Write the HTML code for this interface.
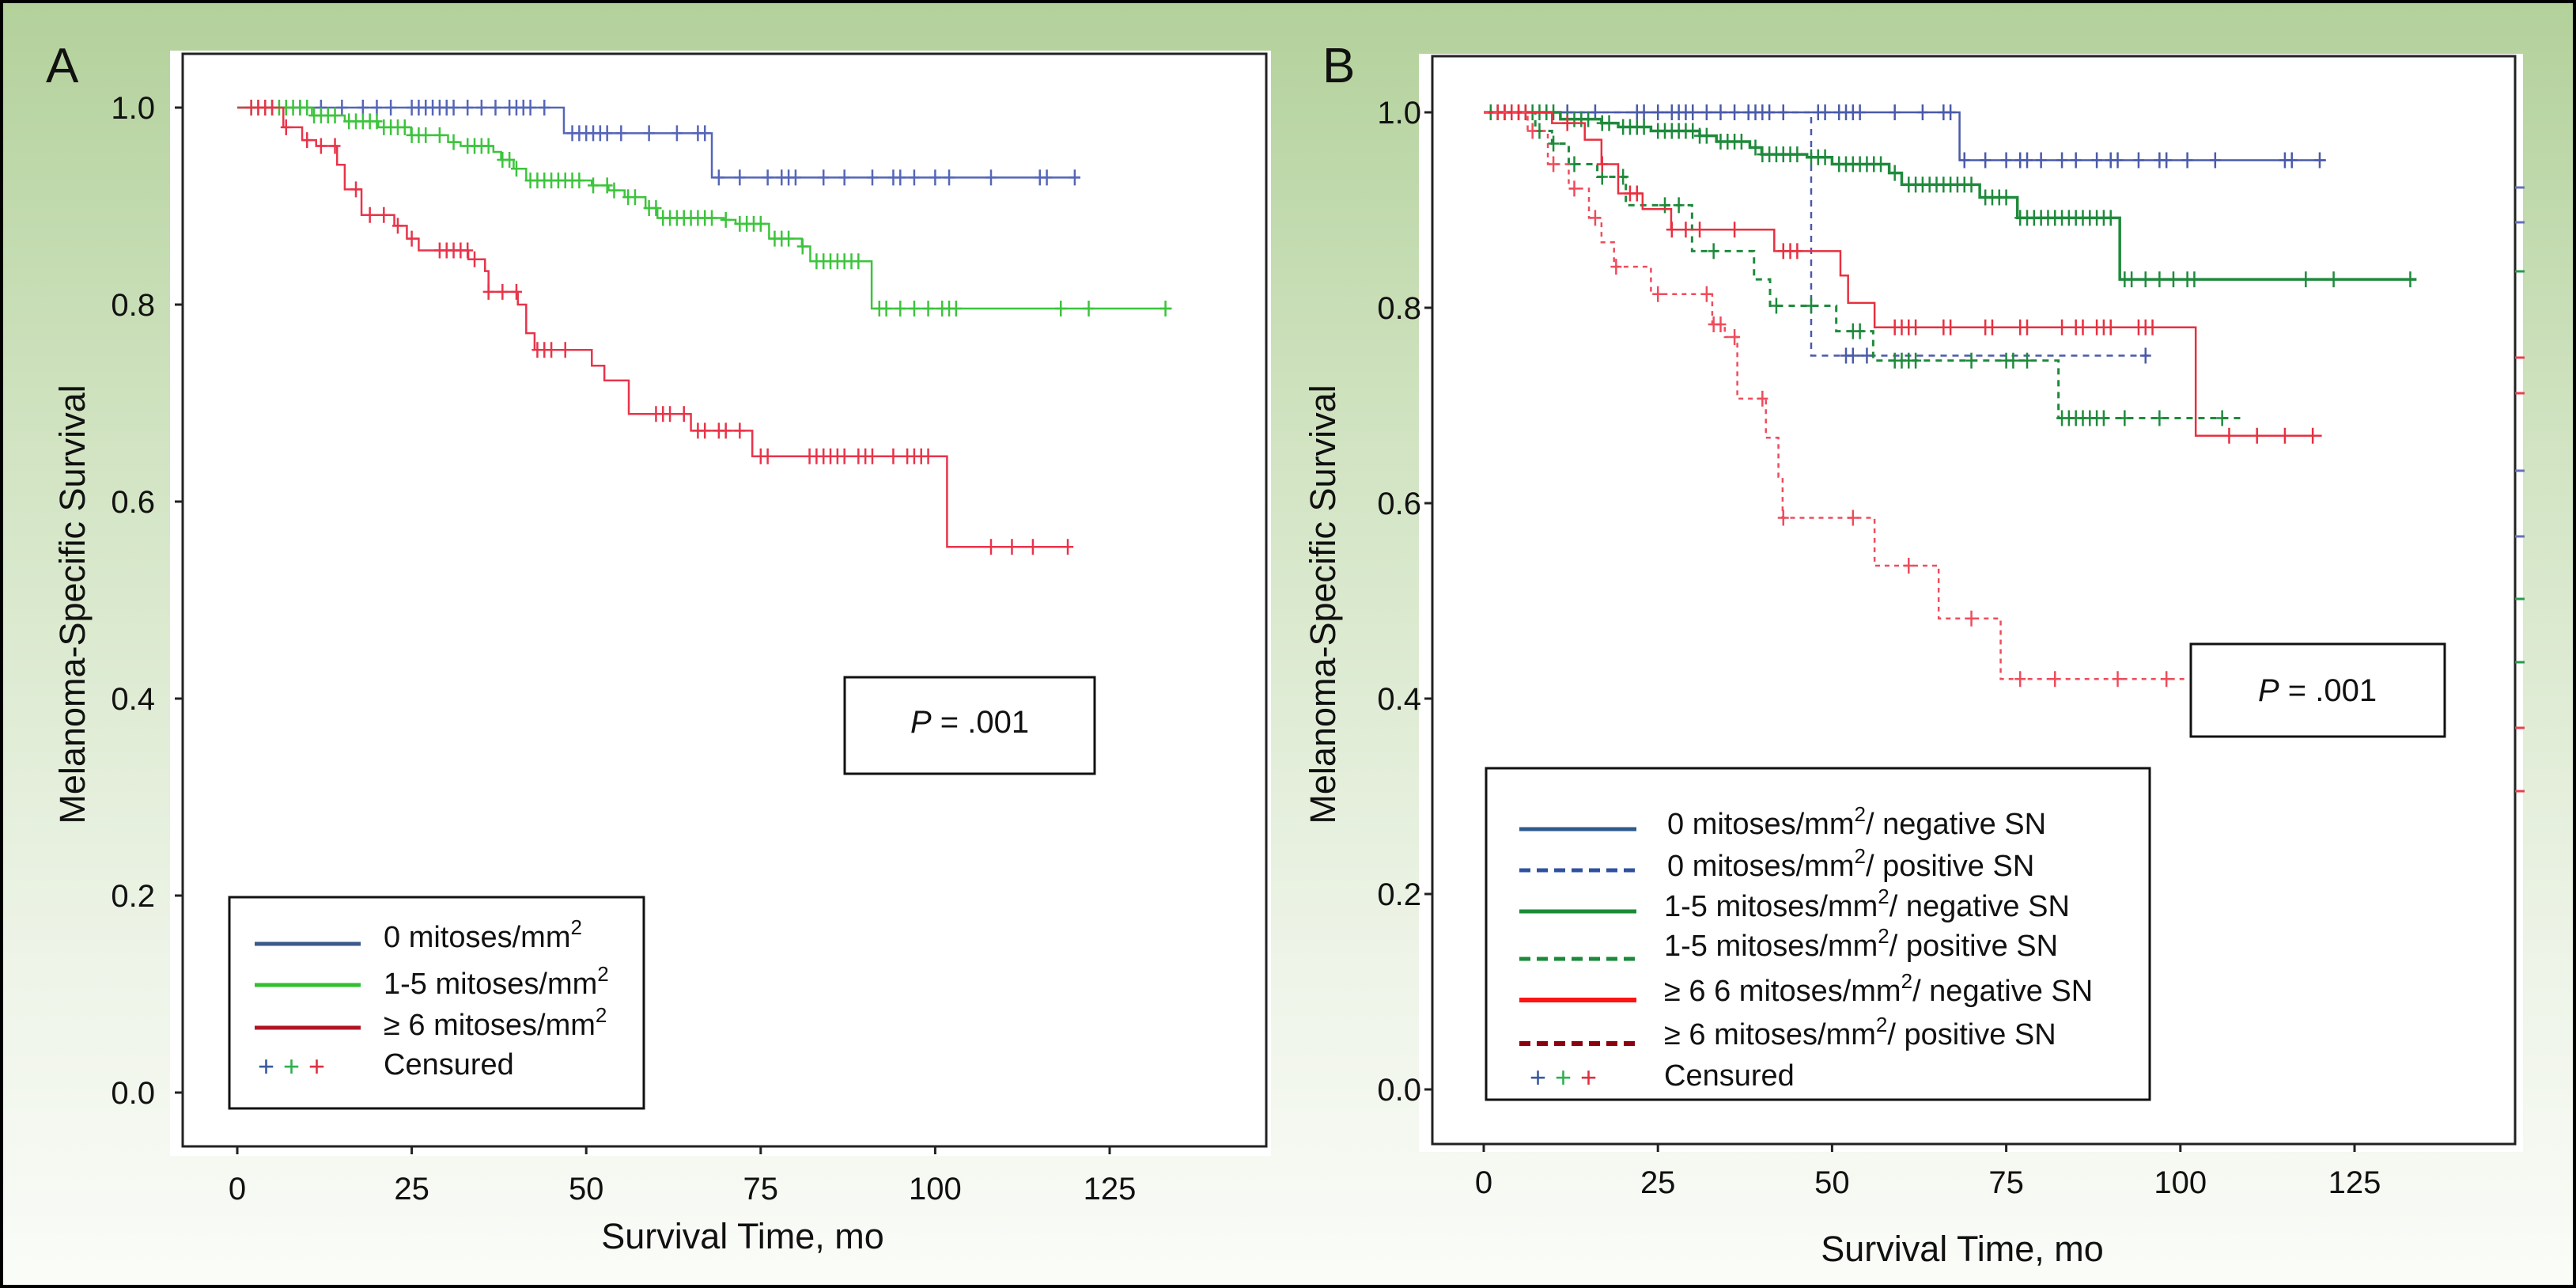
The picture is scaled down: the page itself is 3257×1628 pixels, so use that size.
<!DOCTYPE html>
<html><head><meta charset="utf-8"><style>
html,body{margin:0;padding:0;background:#fff}
svg{display:block}
text{font-family:"Liberation Sans",Arial,sans-serif;fill:#111}
</style></head><body>
<svg id="fig" width="3257" height="1628" viewBox="0 0 3257 1628" xmlns="http://www.w3.org/2000/svg">
<defs>
<linearGradient id="bg" x1="0" y1="0" x2="0" y2="1">
<stop offset="0" stop-color="#b3d19b"/><stop offset="0.35" stop-color="#d2e4c3"/><stop offset="0.75" stop-color="#eef4e8"/><stop offset="1" stop-color="#fafcf8"/>
</linearGradient>
</defs>
<rect x="2" y="2" width="3253" height="1624" fill="url(#bg)" stroke="#000" stroke-width="4"/>
<g id="panelA"></g>
<g id="panelB"></g>
</svg>
<script>
// ---------- Panel A data ----------
const ticksX = [0, 25, 50, 75, 100, 125];
const ticksY = [0.0, 0.2, 0.4, 0.6, 0.8, 1.0];
const tickYLabels = ["0.0", "0.2", "0.4", "0.6", "0.8", "1.0"];

const aBlueTimes = [46.8, 68];
const aBlueSurv = [0.974, 0.929];
const aBlueEnd = 120.8;
const aBlueCens = [5,7,9,12,15,18,20,22,25,26,27,28,29,30,31,33,35,37,39,40,41,42,44,48,49,50,51,52,53,55,59,63,66,67,69,72,76,78,79,80,84,87,91,94,95,97,100,102,108,115,116,120];

const aGreenTimes = [10.7,15.4,20.2,24.9,30.2,32,36.7,37.8,39.6,41.4,50.8,53.2,55.5,58.5,60.2,69.7,71.4,76.2,80.9,82.1,90.9];
const aGreenSurv = [0.992,0.986,0.980,0.972,0.965,0.961,0.955,0.947,0.938,0.926,0.921,0.916,0.909,0.898,0.888,0.886,0.882,0.867,0.859,0.844,0.796];
const aGreenEnd = 133.9;
const aGreenCens = [2,3,4,5,6,7,8,9,10,11,12,13,14,16,17,18,19,20,21,22,23,24,25,26,27,29,31,33,34,35,36,38,39,40,42,43,44,45,46,47,48,49,51,53,54,56,57,59,60,61,62,63,64,65,66,67,68,70,72,73,74,75,77,78,79,81,83,84,85,86,87,88,89,92,93,95,97,99,101,102,103,118,122,133];

const aRedTimes = [6.6,9.3,11.3,14.3,15.4,17.8,22.5,24.3,26,33.1,35.5,36,40.2,41.4,42.6,50.8,52.6,56.1,65,73.8,101.7];
const aRedSurv = [0.98,0.967,0.961,0.942,0.917,0.891,0.88,0.867,0.855,0.846,0.834,0.813,0.80,0.771,0.754,0.738,0.723,0.689,0.672,0.646,0.554];
const aRedEnd = 119.8;
const aRedCens = [2,3,4,5,7,10,12,14,17,19,21,23,25,29,30,31,32,33,34,36,38,40,43,44,45,47,60,61,62,64,66,67,69,70,72,75,76,82,83,84,85,86,87,89,90,91,94,96,97,98,99,108,111,114,119];

// ---------- Panel B data ----------
const bBlueNegTimes = [68.3];
const bBlueNegSurv = [0.951];
const bBlueNegEnd = 120.9;
const bBlueNegCens = [3,6,9,12,16,22,23,25,27,28,29,30,32,34,36,38,39,40,41,43,48,49,51,52,53,54,59,63,66,67,69,72,75,77,78,80,83,85,88,90,91,94,97,98,101,105,115,116,120];

const bBluePosTimes = [47];
const bBluePosSurv = [0.751];
const bBluePosEnd = 95.5;
const bBluePosCens = [52,53,55,95];

const bGreenNegTimes = [11,16.9,19.3,24,31,33.4,38.2,39.9,46.4,50,58.2,60,71.2,76.6,91.3];
const bGreenNegSurv = [0.993,0.989,0.985,0.981,0.976,0.970,0.964,0.957,0.954,0.947,0.938,0.926,0.913,0.892,0.829];
const bGreenNegEnd = 133.9;
const bGreenNegCens = [1,2,3,4,5,6,7,8,9,10,12,13,14,15,17,18,20,21,22,23,25,26,27,28,29,30,31,32,34,35,36,37,39,40,41,42,43,44,45,47,48,49,51,52,53,54,55,56,57,59,61,62,63,64,65,66,67,68,69,70,72,73,74,75,77,78,79,80,81,82,83,84,85,86,87,88,89,90,92,93,95,97,99,101,102,118,122,133];

const bGreenPosTimes = [7.4,9.8,12.2,16.3,20.4,29.9,38.8,41.1,50.6,55.9,82.5];
const bGreenPosSurv = [0.981,0.968,0.947,0.934,0.905,0.858,0.829,0.802,0.776,0.746,0.687];
const bGreenPosEnd = 109;
const bGreenPosCens = [8,10,13,17,20,26,28,33,42,47,53,54,59,60,61,62,70,75,76,78,83,84,85,86,87,88,89,92,97,106];

const bRedNegTimes = [9.8,14.5,16.9,19.3,22.8,26.9,41.7,51.2,52.3,56.1,102.2];
const bRedNegSurv = [0.989,0.972,0.947,0.917,0.901,0.880,0.858,0.833,0.805,0.780,0.669];
const bRedNegEnd = 120.3;
const bRedNegCens = [2,3,4,5,6,12,17,21,22,27,29,31,36,43,44,45,59,60,61,62,66,67,72,73,77,78,83,85,86,88,89,90,94,95,96,107,111,115,119];

const bRedPosTimes = [6.3,9.2,12.2,15.1,16.9,18.7,24,32.8,34.6,36.4,40.5,42.3,42.9,56.1,65.3,74.2];
const bRedPosSurv = [0.981,0.947,0.922,0.892,0.867,0.842,0.814,0.783,0.770,0.707,0.667,0.627,0.585,0.536,0.482,0.420];
const bRedPosEnd = 100.8;
const bRedPosCens = [7,10,13,16,19,25,32,33,34,36,40,43,53,61,70,77,82,91,98];

const NS = "http://www.w3.org/2000/svg";
function mk(tag, attrs, parent, txt) {
  const el = document.createElementNS(NS, tag);
  for (const k in attrs) el.setAttribute(k, attrs[k]);
  if (txt !== undefined) el.textContent = txt;
  parent.appendChild(el);
  return el;
}

function buildPanel(g, cfg, series) {
  const xs = v => cfg.x0 + v / 125 * (cfg.x125 - cfg.x0);
  const ys = v => cfg.y0 - v * (cfg.y0 - cfg.y1);
  const wb = mk("rect", {x: cfg.wb[0], y: cfg.wb[1], width: cfg.wb[2], height: cfg.wb[3], fill: "#fff"}, g);
  
  
  const fr = mk("rect", {x: cfg.fr[0], y: cfg.fr[1], width: cfg.fr[2] - cfg.fr[0], height: cfg.fr[3] - cfg.fr[1], fill: "none", stroke: "#222", "stroke-width": 3}, g);
  
  
  ticksX.forEach(t => {
    const tk = mk("line", {x1: xs(t), x2: xs(t), y1: cfg.fr[3], y2: cfg.fr[3] + 10, stroke: "#222", "stroke-width": 3}, g);
    
    
    const tl = mk("text", {x: xs(t), y: cfg.xLabY, "font-size": 40, "text-anchor": "middle"}, g, String(t));
    
    
  });
  ticksY.forEach((t, i) => {
    const tk = mk("line", {x1: cfg.fr[0] - 10, x2: cfg.fr[0], y1: ys(t), y2: ys(t), stroke: "#222", "stroke-width": 3}, g);
    
    
    const tl = mk("text", {x: cfg.yLabX, y: ys(t) + 14, "font-size": 40, "text-anchor": "end"}, g, tickYLabels[i]);
    
    
  });
  series.forEach(s => {
    let d = "M" + xs(0) + "," + ys(1);
    s.t.forEach((t, i) => { d += " H" + xs(t) + " V" + ys(s.s[i]); });
    d += " H" + xs(s.end);
    const p = mk("path", {d: d, fill: "none", stroke: s.c, "stroke-width": s.w, "stroke-dasharray": s.dash || "none"}, g);
    
    
    s.cens.forEach(ct => {
      let v = 1;
      s.t.forEach((t, i) => { if (ct >= t) v = s.s[i]; });
      const cx = xs(ct), cy = ys(v);
      const m = mk("path", {d: "M" + (cx - 7) + "," + cy + " H" + (cx + 7) + " M" + cx + "," + (cy - 10) + " V" + (cy + 10), stroke: s.c, "stroke-width": 2.5, fill: "none"}, g);
      
      
    });
  });
}

const gA = document.getElementById("panelA");
buildPanel(gA, {x0: 300, x125: 1403, y0: 1381, y1: 136, wb: [215, 64, 1392, 1397], fr: [231, 68, 1601, 1449], xLabY: 1516, yLabX: 196}, [
  {name: "zero-mitoses", t: aBlueTimes, s: aBlueSurv, end: aBlueEnd, cens: aBlueCens, c: "#5566b8", w: 2.5},
  {name: "one-to-five-mitoses", t: aGreenTimes, s: aGreenSurv, end: aGreenEnd, cens: aGreenCens, c: "#3cc43c", w: 2.5},
  {name: "six-plus-mitoses", t: aRedTimes, s: aRedSurv, end: aRedEnd, cens: aRedCens, c: "#e8344a", w: 2.5}
]);

const gB = document.getElementById("panelB");
buildPanel(gB, {x0: 1876, x125: 2977, y0: 1377, y1: 142, wb: [1794, 68, 1396, 1388], fr: [1811, 71, 3180, 1446], xLabY: 1508, yLabX: 1797}, [
  {name: "zero-neg-sn", t: bBlueNegTimes, s: bBlueNegSurv, end: bBlueNegEnd, cens: bBlueNegCens, c: "#4a5aa8", w: 2.5},
  {name: "zero-pos-sn", t: bBluePosTimes, s: bBluePosSurv, end: bBluePosEnd, cens: bBluePosCens, c: "#4a5aa8", w: 2.5, dash: "8,7"},
  {name: "one-five-neg-sn", t: bGreenNegTimes, s: bGreenNegSurv, end: bGreenNegEnd, cens: bGreenNegCens, c: "#1f8a3c", w: 3.5},
  {name: "one-five-pos-sn", t: bGreenPosTimes, s: bGreenPosSurv, end: bGreenPosEnd, cens: bGreenPosCens, c: "#1f8a3c", w: 3, dash: "8,7"},
  {name: "six-neg-sn", t: bRedNegTimes, s: bRedNegSurv, end: bRedNegEnd, cens: bRedNegCens, c: "#e83040", w: 2.5},
  {name: "six-pos-sn", t: bRedPosTimes, s: bRedPosSurv, end: bRedPosEnd, cens: bRedPosCens, c: "#ee4c5c", w: 2.5, dash: "6,6"}
]);

// right-edge stray ticks in panel B
const edgeTickY = [237, 281, 343, 452, 497, 595, 678, 757, 837, 920, 1000];
const edgeTickC = ["#6670b8", "#6670b8", "#2a9a4a", "#e84050", "#e84050", "#6670b8", "#6670b8", "#2a9a4a", "#2a9a4a", "#e84050", "#e84050"];
edgeTickY.forEach((y, i) => {
  const l = mk("line", {x1: 3180, x2: 3192, y1: y, y2: y, stroke: edgeTickC[i], "stroke-width": 3}, gB);
  
  
});
</script>
<svg style="position:absolute;left:0;top:0" width="3257" height="1628">
<text x="58" y="104" font-size="62">A</text>
<text x="1672" y="104" font-size="62">B</text>
<text transform="translate(107,764) rotate(-90)" font-size="45" text-anchor="middle">Melanoma-Specific Survival</text>
<text x="939" y="1578" font-size="45" text-anchor="middle">Survival Time, mo</text>
<text transform="translate(1688,764) rotate(-90)" font-size="45" text-anchor="middle">Melanoma-Specific Survival</text>
<text x="2481" y="1594" font-size="45" text-anchor="middle">Survival Time, mo</text>

<g>
<rect x="1068" y="856" width="316" height="122" fill="#fff" stroke="#111" stroke-width="3"/>
<text x="1226" y="926" font-size="40" text-anchor="middle"><tspan font-style="italic">P</tspan> = .001</text>
</g>
<g>
<rect x="2770" y="814" width="321" height="117" fill="#fff" stroke="#111" stroke-width="3"/>
<text x="2930" y="886" font-size="40" text-anchor="middle"><tspan font-style="italic">P</tspan> = .001</text>
</g>

<g>
<rect x="290" y="1134" width="524" height="267" fill="#fff" stroke="#111" stroke-width="3"/>
<line x1="322" x2="456" y1="1193" y2="1193" stroke="#3a5a8a" stroke-width="5"/>
<text x="485" y="1197" font-size="38">0 mitoses/mm<tspan dy="-16" font-size="26">2</tspan></text>
<line x1="322" x2="456" y1="1245" y2="1245" stroke="#30c030" stroke-width="5"/>
<text x="485" y="1256" font-size="38">1-5 mitoses/mm<tspan dy="-16" font-size="26">2</tspan></text>
<line x1="322" x2="456" y1="1299" y2="1299" stroke="#b01424" stroke-width="5"/>
<text x="485" y="1308" font-size="38">≥ 6 mitoses/mm<tspan dy="-16" font-size="26">2</tspan></text>
<text x="326" y="1360" font-size="36" fill="#3a5aa0" style="fill:#3a5aa0">+</text>
<text x="358" y="1360" font-size="36" style="fill:#30b050">+</text>
<text x="390" y="1360" font-size="36" style="fill:#e03040">+</text>
<text x="485" y="1358" font-size="38">Censured</text>
</g>

<g>
<rect x="1879" y="971" width="839" height="419" fill="#fff" stroke="#111" stroke-width="3"/>
<line x1="1921" x2="2069" y1="1048" y2="1048" stroke="#2f5a8c" stroke-width="5"/>
<text x="2108" y="1054" font-size="38">0 mitoses/mm<tspan dy="-16" font-size="26">2</tspan><tspan dy="16">/ negative SN</tspan></text>
<line x1="1921" x2="2069" y1="1100" y2="1100" stroke="#3050a0" stroke-width="5" stroke-dasharray="14,8"/>
<text x="2108" y="1107" font-size="38">0 mitoses/mm<tspan dy="-16" font-size="26">2</tspan><tspan dy="16">/ positive SN</tspan></text>
<line x1="1921" x2="2069" y1="1152" y2="1152" stroke="#1a8a3a" stroke-width="5"/>
<text x="2104" y="1158" font-size="38">1-5 mitoses/mm<tspan dy="-16" font-size="26">2</tspan><tspan dy="16">/ negative SN</tspan></text>
<line x1="1921" x2="2069" y1="1212" y2="1212" stroke="#1a8a3a" stroke-width="5" stroke-dasharray="14,8"/>
<text x="2104" y="1208" font-size="38">1-5 mitoses/mm<tspan dy="-16" font-size="26">2</tspan><tspan dy="16">/ positive SN</tspan></text>
<line x1="1921" x2="2069" y1="1264" y2="1264" stroke="#ff1414" stroke-width="6"/>
<text x="2104" y="1265" font-size="38">≥ 6 6 mitoses/mm<tspan dy="-16" font-size="26">2</tspan><tspan dy="16">/ negative SN</tspan></text>
<line x1="1921" x2="2069" y1="1319" y2="1319" stroke="#8c0010" stroke-width="6" stroke-dasharray="14,8"/>
<text x="2104" y="1320" font-size="38">≥ 6 mitoses/mm<tspan dy="-16" font-size="26">2</tspan><tspan dy="16">/ positive SN</tspan></text>
<text x="1934" y="1374" font-size="36" style="fill:#3a5aa0">+</text>
<text x="1966" y="1374" font-size="36" style="fill:#30b050">+</text>
<text x="1998" y="1374" font-size="36" style="fill:#e03040">+</text>
<text x="2104" y="1372" font-size="38">Censured</text>
</g>
</svg>
</body></html>
